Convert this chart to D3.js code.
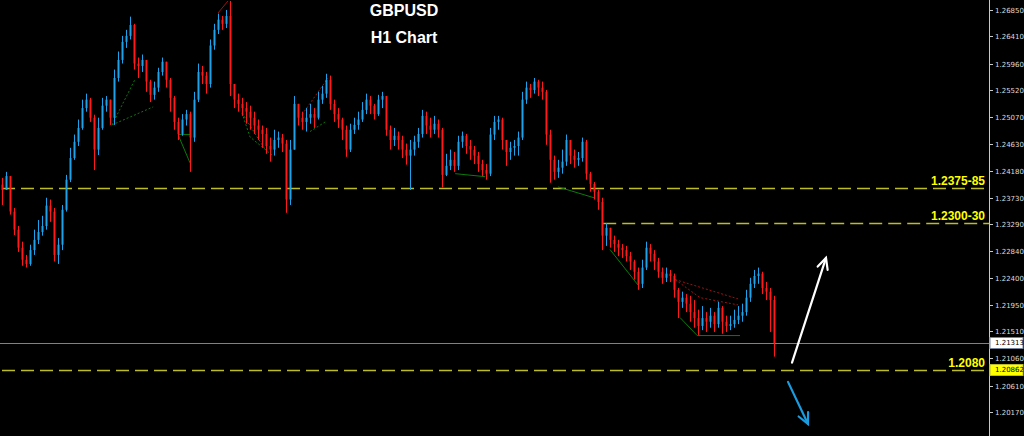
<!DOCTYPE html>
<html>
<head>
<meta charset="utf-8">
<script src="https://cdn.jsdelivr.net/npm/d3@7"></script>
<style>
  html, body { margin: 0; padding: 0; background: #000; }
  svg { display: block; }
</style>
</head>
<body>
<script>
const width = 1024;
const height = 436;

// hourly closes, highs, lows (GBPUSD), oldest first; open = previous close
const firstOpen = 1.2395;
const closes = [
  1.2386, 1.2409, 1.2350, 1.2320, 1.2290, 1.2270, 1.2263, 1.2286, 1.2303, 1.2316,
  1.2326, 1.2360, 1.2350, 1.2278, 1.2295, 1.2353, 1.2403, 1.2439, 1.2466, 1.2489,
  1.2522, 1.2536, 1.2506, 1.2453, 1.2489, 1.2526, 1.2536, 1.2506, 1.2572, 1.2602,
  1.2632, 1.2642, 1.2660, 1.2596, 1.2592, 1.2602, 1.2566, 1.2544, 1.2556, 1.2582,
  1.2599, 1.2569, 1.2539, 1.2499, 1.2479, 1.2503, 1.2512, 1.2473, 1.2536, 1.2582,
  1.2576, 1.2562, 1.2626, 1.2652, 1.2669, 1.2662, 1.2675, 1.2562, 1.2536, 1.2529,
  1.2522, 1.2516, 1.2506, 1.2493, 1.2486, 1.2479, 1.2459, 1.2453, 1.2469, 1.2473,
  1.2463, 1.2370, 1.2453, 1.2529, 1.2506, 1.2499, 1.2506, 1.2512, 1.2506, 1.2536,
  1.2546, 1.2569, 1.2529, 1.2512, 1.2503, 1.2486, 1.2453, 1.2486, 1.2494, 1.2503,
  1.2519, 1.2536, 1.2526, 1.2512, 1.2536, 1.2542, 1.2486, 1.2469, 1.2476, 1.2469,
  1.2453, 1.2443, 1.2453, 1.2466, 1.2479, 1.2509, 1.2493, 1.2486, 1.2496, 1.2486,
  1.2411, 1.2426, 1.2436, 1.2426, 1.2466, 1.2476, 1.2459, 1.2453, 1.2443, 1.2429,
  1.2419, 1.2413, 1.2478, 1.2499, 1.2503, 1.2469, 1.2449, 1.2456, 1.2459, 1.2473,
  1.2536, 1.2556, 1.2552, 1.2566, 1.2556, 1.2549, 1.2478, 1.2436, 1.2416, 1.2423,
  1.2433, 1.2469, 1.2443, 1.2436, 1.2439, 1.2466, 1.2413, 1.2396, 1.2383, 1.2366,
  1.2310, 1.2323, 1.2303, 1.2296, 1.2290, 1.2286, 1.2276, 1.2267, 1.2250, 1.2230,
  1.2257, 1.2290, 1.2280, 1.2267, 1.2250, 1.2240, 1.2247, 1.2243, 1.2220, 1.2200,
  1.2207, 1.2197, 1.2183, 1.2173, 1.2160, 1.2173, 1.2167, 1.2177, 1.2163, 1.2190,
  1.2167, 1.2160, 1.2163, 1.2170, 1.2177, 1.2183, 1.2207, 1.2230, 1.2243, 1.2247,
  1.2223, 1.2217, 1.2203, 1.2131
];
const highs = [
  1.2406, 1.2416, 1.2409, 1.2356, 1.2326, 1.2300, 1.2278, 1.2295, 1.2320, 1.2336,
  1.2343, 1.2373, 1.2370, 1.2356, 1.2306, 1.2361, 1.2411, 1.2456, 1.2478, 1.2503,
  1.2536, 1.2546, 1.2539, 1.2511, 1.2506, 1.2539, 1.2542, 1.2536, 1.2586, 1.2616,
  1.2642, 1.2652, 1.2674, 1.2662, 1.2606, 1.2611, 1.2602, 1.2569, 1.2566, 1.2589,
  1.2606, 1.2599, 1.2572, 1.2542, 1.2506, 1.2512, 1.2519, 1.2516, 1.2549, 1.2596,
  1.2592, 1.2582, 1.2636, 1.2662, 1.2679, 1.2675, 1.2685, 1.2700, 1.2562, 1.2546,
  1.2539, 1.2532, 1.2526, 1.2516, 1.2503, 1.2493, 1.2489, 1.2473, 1.2486, 1.2483,
  1.2479, 1.2469, 1.2469, 1.2542, 1.2526, 1.2516, 1.2522, 1.2529, 1.2522, 1.2549,
  1.2559, 1.2579, 1.2576, 1.2536, 1.2522, 1.2506, 1.2493, 1.2496, 1.2506, 1.2516,
  1.2532, 1.2546, 1.2542, 1.2529, 1.2544, 1.2549, 1.2542, 1.2493, 1.2489, 1.2483,
  1.2476, 1.2463, 1.2469, 1.2476, 1.2489, 1.2519, 1.2516, 1.2506, 1.2509, 1.2503,
  1.2489, 1.2446, 1.2453, 1.2449, 1.2476, 1.2483, 1.2479, 1.2469, 1.2459, 1.2449,
  1.2436, 1.2429, 1.2489, 1.2509, 1.2509, 1.2506, 1.2469, 1.2466, 1.2469, 1.2483,
  1.2549, 1.2566, 1.2562, 1.2572, 1.2569, 1.2566, 1.2552, 1.2486, 1.2443, 1.2436,
  1.2453, 1.2478, 1.2469, 1.2453, 1.2449, 1.2473, 1.2469, 1.2416, 1.2399, 1.2386,
  1.2373, 1.2331, 1.2323, 1.2310, 1.2303, 1.2296, 1.2293, 1.2283, 1.2270, 1.2257,
  1.2270, 1.2300, 1.2296, 1.2286, 1.2273, 1.2257, 1.2257, 1.2253, 1.2247, 1.2223,
  1.2217, 1.2213, 1.2210, 1.2203, 1.2187, 1.2193, 1.2183, 1.2190, 1.2183, 1.2200,
  1.2193, 1.2177, 1.2177, 1.2187, 1.2193, 1.2197, 1.2220, 1.2240, 1.2253, 1.2257,
  1.2250, 1.2233, 1.2223, 1.2210
];
const lows = [
  1.2361, 1.2386, 1.2345, 1.2311, 1.2283, 1.2260, 1.2257, 1.2260, 1.2278, 1.2296,
  1.2310, 1.2320, 1.2333, 1.2267, 1.2263, 1.2286, 1.2350, 1.2399, 1.2436, 1.2459,
  1.2486, 1.2516, 1.2499, 1.2419, 1.2444, 1.2486, 1.2516, 1.2494, 1.2494, 1.2566,
  1.2596, 1.2622, 1.2636, 1.2586, 1.2572, 1.2582, 1.2549, 1.2532, 1.2536, 1.2549,
  1.2576, 1.2556, 1.2516, 1.2486, 1.2469, 1.2476, 1.2493, 1.2416, 1.2466, 1.2532,
  1.2562, 1.2546, 1.2556, 1.2619, 1.2645, 1.2652, 1.2655, 1.2542, 1.2522, 1.2516,
  1.2509, 1.2496, 1.2486, 1.2479, 1.2469, 1.2456, 1.2446, 1.2433, 1.2443, 1.2456,
  1.2449, 1.2348, 1.2361, 1.2453, 1.2493, 1.2486, 1.2483, 1.2496, 1.2489, 1.2503,
  1.2529, 1.2539, 1.2519, 1.2499, 1.2489, 1.2469, 1.2441, 1.2449, 1.2479, 1.2486,
  1.2499, 1.2512, 1.2512, 1.2503, 1.2509, 1.2522, 1.2476, 1.2453, 1.2459, 1.2453,
  1.2439, 1.2428, 1.2386, 1.2443, 1.2456, 1.2473, 1.2479, 1.2473, 1.2479, 1.2473,
  1.2390, 1.2409, 1.2419, 1.2416, 1.2419, 1.2456, 1.2446, 1.2436, 1.2429, 1.2416,
  1.2409, 1.2403, 1.2409, 1.2469, 1.2486, 1.2453, 1.2426, 1.2436, 1.2443, 1.2443,
  1.2469, 1.2529, 1.2539, 1.2546, 1.2542, 1.2536, 1.2461, 1.2398, 1.2403, 1.2406,
  1.2413, 1.2426, 1.2429, 1.2423, 1.2426, 1.2433, 1.2403, 1.2383, 1.2370, 1.2353,
  1.2286, 1.2293, 1.2290, 1.2283, 1.2276, 1.2273, 1.2267, 1.2253, 1.2237, 1.2220,
  1.2223, 1.2253, 1.2267, 1.2253, 1.2240, 1.2230, 1.2233, 1.2233, 1.2207, 1.2173,
  1.2190, 1.2183, 1.2167, 1.2157, 1.2145, 1.2153, 1.2150, 1.2157, 1.2150, 1.2157,
  1.2147, 1.2150, 1.2153, 1.2157, 1.2163, 1.2167, 1.2177, 1.2200, 1.2223, 1.2230,
  1.2213, 1.2203, 1.2150, 1.2109
];

const priceTicks = [1.26850, 1.26410, 1.25960, 1.25520, 1.25070, 1.24630, 1.24180,
  1.23730, 1.23290, 1.22840, 1.22400, 1.21950, 1.21510, 1.21060, 1.20610, 1.20170];

// support / resistance levels drawn on the chart
const levels = [
  {price: 1.2389, from: 0, label: "1.2375-85"},
  {price: 1.2331, from: 150.3, label: "1.2300-30"},
  {price: 1.2087, from: 0, label: "1.2080"}
];
const bidPrice = 1.21313;
const levelPrice = 1.20862;

// harmonic pattern outlines: [bar index, price]
const greenPatterns = [
  {dash: "2,2", pts: [[27.5, 1.2494], [33.2, 1.2569]]},
  {dash: "2,2", pts: [[27.5, 1.2494], [37.8, 1.2524]]},
  {dash: null, pts: [[44, 1.2478], [47, 1.2431]]},
  {dash: null, pts: [[44, 1.2478], [47, 1.2478]]},
  {dash: "2,2", pts: [[60, 1.2514], [62, 1.2474], [67.5, 1.2444]]},
  {dash: "2,2", pts: [[60, 1.2514], [65.8, 1.2453]]},
  {dash: "2,2", pts: [[77, 1.2483], [80.8, 1.2499]]},
  {dash: null, pts: [[113.3, 1.2413], [120.8, 1.2408]]},
  {dash: null, pts: [[139, 1.2391], [148, 1.2373]]},
  {dash: null, pts: [[152, 1.2287], [159, 1.2228]]},
  {dash: null, pts: [[169.5, 1.2174], [173.8, 1.2144], [184.5, 1.2144]]}
];
const redPatterns = [
  {dash: null, pts: [[54, 1.2680], [56.5, 1.2700]]},
  {dash: "2,2", pts: [[75, 1.2511], [81.5, 1.2572]]},
  {dash: "2,2", pts: [[168.3, 1.2237], [174.5, 1.2207], [184, 1.2195]]},
  {dash: "2,2", pts: [[168.3, 1.2237], [184, 1.2205]]}
];

// projected moves
const arrows = [
  {color: "#ffffff", from: [197.5, 1.2099], to: [206, 1.2273]},
  {color: "#1a9ce0", from: [196.5, 1.2067], to: [201.5, 1.1997]}
];

const candles = closes.map((c, i) => {
  const o = i === 0 ? firstOpen : closes[i - 1];
  return {
    i, o, c,
    h: Math.max(highs[i], o, c),
    l: Math.min(lows[i], o, c)
  };
});

const x = d3.scaleLinear().domain([0, 246]).range([2, 986]);
const y = d3.scaleLinear().domain([1.19771, 1.27016]).range([height, 0]);

const svg = d3.select("body").append("svg")
  .attr("width", width)
  .attr("height", height)
  .style("background", "#000");

// title
svg.append("g")
  .attr("fill", "#fff")
  .attr("font-family", "Arial, 'Liberation Sans', sans-serif")
  .attr("font-weight", "bold")
  .attr("font-size", "16px")
  .attr("text-anchor", "middle")
  .selectAll("text")
  .data(["GBPUSD", "H1 Chart"])
  .join("text")
  .attr("x", 404)
  .attr("y", (d, i) => 16 + i * 27)
  .text(d => d);

// level lines
svg.append("g")
  .selectAll("line")
  .data(levels)
  .join("line")
  .attr("x1", d => x(d.from))
  .attr("x2", 989)
  .attr("y1", d => Math.round(y(d.price)) + 0.5)
  .attr("y2", d => Math.round(y(d.price)) + 0.5)
  .attr("stroke", "#bcbc26")
  .attr("stroke-width", 1.6)
  .attr("stroke-dasharray", "13,6");

// bid line
svg.append("line")
  .attr("x1", 0)
  .attr("x2", 989)
  .attr("y1", Math.round(y(bidPrice)) + 0.5)
  .attr("y2", Math.round(y(bidPrice)) + 0.5)
  .attr("stroke", "#73849a")
  .attr("stroke-width", 1);

// pattern outlines
const line = d3.line().x(d => x(d[0])).y(d => y(d[1]));
svg.append("g")
  .attr("fill", "none")
  .selectAll("path")
  .data(greenPatterns.map(p => ({...p, color: "#0b7a0b"}))
    .concat(redPatterns.map(p => ({...p, color: "#a01212"}))))
  .join("path")
  .attr("d", d => line(d.pts))
  .attr("stroke", d => d.color)
  .attr("stroke-width", 1)
  .attr("stroke-dasharray", d => d.dash);

// candles
const up = "#1ea2ea";
const down = "#ff1a1a";
const candle = svg.append("g")
  .selectAll("g")
  .data(candles)
  .join("g")
  .attr("fill", d => d.c >= d.o ? up : down)
  .attr("stroke", d => d.c >= d.o ? up : down);

candle.append("line")
  .attr("x1", d => x(d.i) + 0.5)
  .attr("x2", d => x(d.i) + 0.5)
  .attr("y1", d => y(d.h))
  .attr("y2", d => y(d.l))
  .attr("stroke-width", 1);

candle.append("rect")
  .attr("stroke", "none")
  .attr("x", d => x(d.i) - 0.5)
  .attr("width", 2)
  .attr("y", d => y(Math.max(d.o, d.c)))
  .attr("height", d => Math.max(1, Math.abs(y(d.o) - y(d.c))));

// level labels
svg.append("g")
  .attr("fill", "#ffff00")
  .attr("font-family", "Arial, 'Liberation Sans', sans-serif")
  .attr("font-weight", "bold")
  .attr("font-size", "12px")
  .attr("text-anchor", "end")
  .selectAll("text")
  .data(levels)
  .join("text")
  .attr("x", 985)
  .attr("y", d => y(d.price) - 3)
  .text(d => d.label);

// arrows
const arrow = svg.append("g")
  .attr("fill", "none")
  .attr("stroke-width", 2.2)
  .attr("stroke-linecap", "round")
  .selectAll("g")
  .data(arrows)
  .join("g")
  .attr("stroke", d => d.color);

arrow.append("line")
  .attr("x1", d => x(d.from[0]))
  .attr("y1", d => y(d.from[1]))
  .attr("x2", d => x(d.to[0]))
  .attr("y2", d => y(d.to[1]));

arrow.append("path")
  .attr("d", d => {
    const x0 = x(d.from[0]), y0 = y(d.from[1]);
    const x1 = x(d.to[0]), y1 = y(d.to[1]);
    const a = Math.atan2(y1 - y0, x1 - x0);
    const len = 12, spread = 0.45;
    const p1 = [x1 - len * Math.cos(a - spread), y1 - len * Math.sin(a - spread)];
    const p2 = [x1 - len * Math.cos(a + spread), y1 - len * Math.sin(a + spread)];
    return `M${p1}L${x1},${y1}L${p2}`;
  });

// price axis
const axis = svg.append("g").attr("transform", "translate(989,0)");
axis.append("line")
  .attr("x1", 0.5).attr("x2", 0.5)
  .attr("y1", 0).attr("y2", height)
  .attr("stroke", "#c8c8c8");

const tick = axis.selectAll("g.tick")
  .data(priceTicks)
  .join("g")
  .attr("class", "tick")
  .attr("transform", d => `translate(0,${Math.round(y(d)) + 0.5})`);
tick.append("line")
  .attr("x1", 1).attr("x2", 4)
  .attr("stroke", "#c8c8c8");
tick.append("text")
  .attr("x", 6)
  .attr("dy", "0.33em")
  .attr("fill", "#dcdcdc")
  .attr("font-family", "'DejaVu Sans', sans-serif")
  .attr("font-size", "7px")
  .text(d => d.toFixed(5));

// price tags on the axis
const tags = [
  {price: bidPrice, fill: "#ffffff", stroke: "#73849a"},
  {price: levelPrice, fill: "#ffff00", stroke: "#bcbc26"}
];
const tag = axis.selectAll("g.tag")
  .data(tags)
  .join("g")
  .attr("class", "tag")
  .attr("transform", d => `translate(0,${Math.round(y(d.price))})`);
tag.append("rect")
  .attr("x", 1).attr("y", -5.5)
  .attr("width", 33).attr("height", 11)
  .attr("fill", d => d.fill)
  .attr("stroke", d => d.stroke);
tag.append("text")
  .attr("x", 6)
  .attr("dy", "0.35em")
  .attr("fill", "#000")
  .attr("font-family", "'DejaVu Sans', sans-serif")
  .attr("font-size", "7px")
  .text(d => d.price.toFixed(5));
</script>
</body>
</html>
